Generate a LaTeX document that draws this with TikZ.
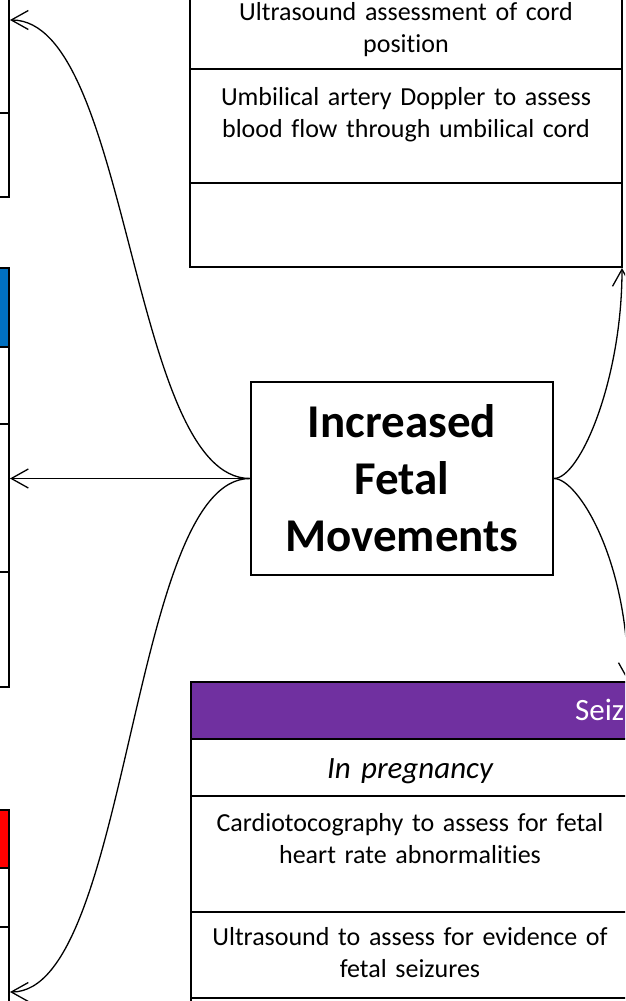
\documentclass[tikz,border=0pt]{standalone}
\usepackage{fontspec}
\setmainfont{Carlito}[Ligatures=NoCommon]
\usetikzlibrary{arrows.meta}
\definecolor{hdrpurple}{HTML}{7030A0}
\definecolor{hdrblue}{HTML}{0070C0}
\definecolor{hdrred}{HTML}{FF0000}
\tikzset{
  tbl/.style={draw=black, line width=2pt},
  conn/.style={draw=black, line width=1.3pt, -{Straight Barb[length=17pt,width=19pt,line width=1.3pt]}},
  cell/.style={anchor=base, text width=430pt, align=center, inner sep=0pt, font=\fontsize{26}{32}\selectfont},
  mainbox/.style={draw=black, line width=2pt, minimum width=302pt, minimum height=193pt, align=center, inner sep=0pt, font=\bfseries\fontsize{47}{57}\selectfont},
}
\begin{document}
\begin{tikzpicture}[x=1pt,y=-1pt]
\useasboundingbox (0,0) rectangle (625,1001);
\clip (0,0) rectangle (625,1001);
% left tables (partly visible)
\draw[tbl] (9,-10) -- (9,197) -- (-60,197);
\draw[tbl] (-60,113) -- (9,113);
\fill[hdrblue] (-60,268) rectangle (9,347);
\draw[tbl] (-60,268) rectangle (9,687);
\draw[tbl] (-60,347) -- (9,347);
\draw[tbl] (-60,424) -- (9,424);
\draw[tbl] (-60,572) -- (9,572);
\fill[hdrred] (-60,810) rectangle (9,868);
\draw[tbl] (-60,810) rectangle (9,1060);
\draw[tbl] (-60,868) -- (9,868);
\draw[tbl] (-60,927) -- (9,927);
% top right table
\draw[tbl] (190,-10) rectangle (622,267);
\draw[tbl] (190,69) -- (622,69);
\draw[tbl] (190,183) -- (622,183);
\node[cell] (tr1) at (406,20) {Ultrasound assessment of cord\\position};
\node[cell] (tr2) at (406,105) {Umbilical artery Doppler to assess\\blood flow through umbilical cord};
% bottom right table
\fill[hdrpurple] (191,682) rectangle (660,739);
\draw[tbl] (191,682) rectangle (660,1060);
\draw[tbl] (191,739) -- (660,739);
\draw[tbl] (191,796) -- (660,796);
\draw[tbl] (191,912) -- (660,912);
\draw[tbl] (191,998) -- (660,998);
\node[anchor=base west, inner sep=0pt, text=white, font=\fontsize{31}{37}\selectfont] (seiz) at (575,720) {Seizures};
\node[cell, font=\itshape\fontsize{31}{37}\selectfont] (br1) at (410,778) {In pregnancy};
\node[cell] (br2) at (410,831) {Cardiotocography to assess for fetal\\heart rate abnormalities};
\node[cell] (br3) at (410,945) {Ultrasound to assess for evidence of\\fetal seizures};
% central box
\node[mainbox] (center) at (402,478.5) {Increased\\Fetal\\Movements};
% connector targets
\coordinate (tlTip) at (10,20);
\coordinate (mlTip) at (10,478.5);
\coordinate (blTip) at (10,992);
\coordinate (trTip) at (622,268);
\coordinate (brTip) at (628,681);
\draw[conn] (center.west) .. controls (130,478.5) and (130,20) .. (tlTip);
\draw[conn] (center.west) -- (mlTip);
\draw[conn] (center.west) .. controls (130,478.5) and (130,992) .. (blTip);
\draw[conn] (center.east) .. controls (580,478.5) and (622,380) .. (trTip);
\draw[conn] (center.east) .. controls (578,478.5) and (628,560) .. (brTip);
\end{tikzpicture}
\end{document}
